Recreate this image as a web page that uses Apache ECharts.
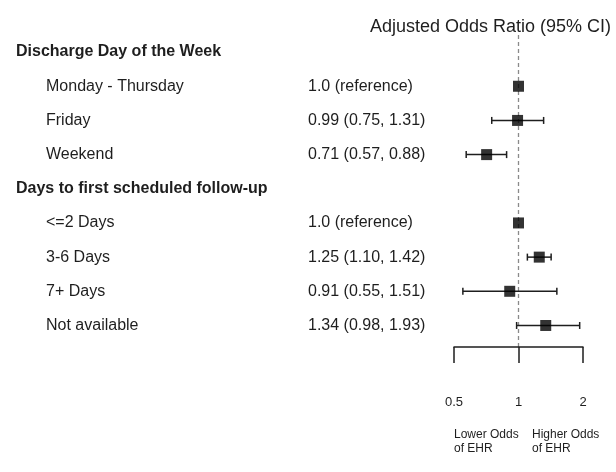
<!DOCTYPE html>
<html>
<head>
<meta charset="utf-8">
<script src="https://cdn.jsdelivr.net/npm/echarts@6/dist/echarts.min.js"></script>
<style>
  html, body { margin: 0; padding: 0; background: #fff; }
  #chart { width: 616px; height: 472px; }
</style>
</head>
<body>
<div id="chart"></div>
<script>
// rows top to bottom; group headers have no estimate
const rowLabels = [
    "Discharge Day of the Week",
    "Monday - Thursday",
    "Friday",
    "Weekend",
    "Days to first scheduled follow-up",
    "<=2 Days",
    "3-6 Days",
    "7+ Days",
    "Not available",
];
const estimateText = [
    "",
    "1.0 (reference)",
    "0.99 (0.75, 1.31)",
    "0.71 (0.57, 0.88)",
    "",
    "1.0 (reference)",
    "1.25 (1.10, 1.42)",
    "0.91 (0.55, 1.51)",
    "1.34 (0.98, 1.93)",
];
const estimates = [null, 1.0, 0.99, 0.71, null, 1.0, 1.25, 0.91, 1.34];
const lower = [null, null, 0.75, 0.57, null, null, 1.10, 0.55, 0.98];
const upper = [null, null, 1.31, 0.88, null, null, 1.42, 1.51, 1.93];
const xTicks = [0.5, 1, 2];

const font = "'Liberation Sans', Arial, sans-serif";
const ink = "#1e1e1e";

const rowIdx = rowLabels.map((_, i) => i);
const points = [];
const bars = [];
rowIdx.forEach((i) => {
    if (estimates[i] != null) points.push([estimates[i], i]);
    if (lower[i] != null) bars.push([lower[i], upper[i], i]);
});

const chart = echarts.init(document.getElementById("chart"));

const option = {
    animation: false,
    textStyle: { fontFamily: font },
    title: {
        text: "Adjusted Odds Ratio (95% CI)",
        left: 365,
        top: 13,
        textStyle: { fontFamily: font, fontSize: 18, fontWeight: "normal", color: ink },
    },
    grid: {
        left: 454,
        right: 33,
        top: 35,
        bottom: 125,
        outerBoundsMode: "none",
    },
    xAxis: {
        type: "log",
        logBase: 2,
        min: 0.5,
        max: 2,
        axisLine: { onZero: false, lineStyle: { color: ink, width: 1.5 } },
        axisTick: { show: true, length: 16, lineStyle: { color: ink, width: 1.5 } },
        axisLabel: {
            margin: 49,
            fontSize: 13,
            color: ink,
            fontFamily: font,
            formatter: (v) => (xTicks.includes(+v.toFixed(3)) ? String(+v.toFixed(3)) : ""),
        },
        splitLine: { show: false },
    },
    yAxis: {
        type: "value",
        inverse: true,
        min: -0.5,
        max: 8.63,
        axisLine: { show: false },
        axisTick: { show: false },
        splitLine: { show: false },
        axisLabel: {
            customValues: rowIdx,
            align: "left",
            margin: 438,
            color: ink,
            fontFamily: font,
            fontSize: 16,
            formatter: (v) => {
                const i = Math.round(v);
                if (estimates[i] == null) return "{h|" + rowLabels[i] + "}";
                return "{l|" + rowLabels[i] + "}{v|" + estimateText[i] + "}";
            },
            rich: {
                h: { fontFamily: font, fontSize: 16, fontWeight: "bold", color: ink },
                l: { fontFamily: font, fontSize: 16, color: ink, width: 262, padding: [0, 0, 0, 30] },
                v: { fontFamily: font, fontSize: 16, color: ink },
            },
        },
    },
    graphic: [
        {
            type: "text",
            left: 454,
            top: 428,
            style: { text: "Lower Odds\nof EHR", fontFamily: font, fontSize: 12, lineHeight: 14, fill: ink },
        },
        {
            type: "text",
            left: 532,
            top: 428,
            style: { text: "Higher Odds\nof EHR", fontFamily: font, fontSize: 12, lineHeight: 14, fill: ink },
        },
    ],
    series: [
        {
            // reference line at OR = 1, kept under the marks
            type: "line",
            data: [],
            z: 0,
            markLine: {
                silent: true,
                z: 0,
                symbol: "none",
                label: { show: false },
                lineStyle: { color: "#8a8a8a", type: [4, 3], width: 1.3 },
                data: [{ xAxis: 1 }],
            },
        },
        {
            type: "custom",
            data: bars,
            encode: { x: [0, 1], y: 2 },
            z: 2,
            renderItem: (params, api) => {
                const y = api.value(2);
                const a = api.coord([api.value(0), y]);
                const b = api.coord([api.value(1), y]);
                const cap = 3.5;
                const style = { stroke: ink, lineWidth: 1.5 };
                return {
                    type: "group",
                    children: [
                        { type: "line", shape: { x1: a[0], y1: a[1], x2: b[0], y2: b[1] }, style },
                        { type: "line", shape: { x1: a[0], y1: a[1] - cap, x2: a[0], y2: a[1] + cap }, style },
                        { type: "line", shape: { x1: b[0], y1: b[1] - cap, x2: b[0], y2: b[1] + cap }, style },
                    ],
                };
            },
        },
        {
            type: "scatter",
            data: points,
            symbol: "rect",
            symbolSize: 11,
            itemStyle: { color: "#000" },
            z: 3,
        },
    ],
};

chart.setOption(option);
</script>
</body>
</html>
